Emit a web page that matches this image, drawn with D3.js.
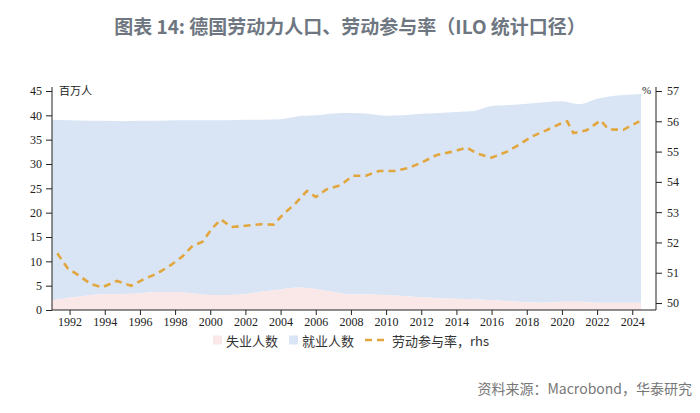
<!DOCTYPE html>
<html><head><meta charset="utf-8">
<script src="https://cdn.jsdelivr.net/npm/d3@7"></script>
<style>
html,body{margin:0;padding:0;background:#fff;}
svg{display:block;}
</style></head>
<body>
<svg id="c" width="700" height="413"></svg>
<script>
// ---- data ----
const areaYears = [1991,1992,1993,1994,1995,1996,1997,1998,1999,2000,2001,2002,2003,2004,2005,2006,2007,2008,2009,2010,2011,2012,2013,2014,2015,2016,2017,2018,2019,2020,2021,2022,2023,2024,2024.5];
const laborForce = [39.1,39.0,38.9,38.9,38.8,38.9,38.9,39.0,39.0,39.0,39.0,39.1,39.1,39.2,39.8,40.0,40.4,40.5,40.3,39.9,40.0,40.3,40.5,40.7,40.9,41.9,42.1,42.4,42.7,42.9,42.3,43.4,44.0,44.3,44.4];
const unemployed = [2.0,2.5,3.0,3.3,3.3,3.4,3.7,3.7,3.4,3.1,3.1,3.3,3.8,4.2,4.6,4.3,3.7,3.2,3.2,3.1,2.9,2.6,2.4,2.3,2.2,2.0,1.8,1.6,1.5,1.7,1.7,1.5,1.5,1.5,1.5];
const rateYears = [1991.3,1991.9,1992.5,1993.2,1993.85,1994.7,1995.5,1996.2,1997.0,1997.75,1998.4,1999.0,1999.55,2000.1,2000.6,2001.2,2002.0,2002.9,2003.6,2004.2,2004.8,2005.5,2006.0,2006.6,2007.4,2008.1,2008.85,2009.6,2010.5,2011.3,2012.1,2012.85,2013.7,2014.6,2015.2,2016.0,2016.85,2017.6,2018.3,2019.1,2019.9,2020.3,2020.65,2021.4,2022.2,2022.65,2023.5,2024.4];
const participation = [51.64,51.14,50.92,50.63,50.52,50.73,50.57,50.78,50.98,51.25,51.53,51.89,52.02,52.46,52.76,52.51,52.55,52.60,52.59,52.96,53.26,53.70,53.50,53.75,53.89,54.20,54.20,54.36,54.36,54.46,54.66,54.88,54.99,55.13,54.93,54.80,54.99,55.24,55.50,55.70,55.92,56.00,55.61,55.70,56.03,55.73,55.72,56.00];
const xTicks = [1992,1994,1996,1998,2000,2002,2004,2006,2008,2010,2012,2014,2016,2018,2020,2022,2024];
const yLeftTicks = [0,5,10,15,20,25,30,35,40,45];
const yRightTicks = [50,51,52,53,54,55,56,57];
const titleText = "图表 14: 德国劳动力人口、劳动参与率（ILO 统计口径）";
const legendLabels = ["失业人数","就业人数","劳动参与率，rhs"];
const sourceText = "资料来源：Macrobond，华泰研究";

// ---- layout ----
const svg = d3.select("#c");
const L = 52, R = 656, T = 91, B = 310;
const x = d3.scaleLinear().domain([1991, 2025.35]).range([L, R]);
const yL = d3.scaleLinear().domain([0, 45]).range([B, T]);
const yR = d3.scaleLinear().domain([49.77, 57]).range([B, T]);

const serif = "'Liberation Serif','DejaVu Serif',serif";
const cjk = "'Noto Sans CJK SC','Noto Sans',sans-serif";

// title
svg.append("text").attr("x", 350).attr("y", 34).attr("text-anchor","middle")
  .attr("font-family", cjk).attr("font-size", 19).attr("font-weight", "bold")
  .attr("fill", "#6e7781").text(titleText);

const rows = areaYears.map((yr,i)=>({yr, tot: laborForce[i], un: unemployed[i]}));

// employed area (blue) from unemployed to total
svg.append("path").datum(rows)
  .attr("fill", "#d9e5f4")
  .attr("d", d3.area().x(d=>x(d.yr)).y0(d=>yL(d.un)).y1(d=>yL(d.tot)).curve(d3.curveMonotoneX));
// unemployed area (pink)
svg.append("path").datum(rows)
  .attr("fill", "#fae7e8")
  .attr("d", d3.area().x(d=>x(d.yr)).y0(yL(0)).y1(d=>yL(d.un)).curve(d3.curveMonotoneX));

// participation line
const rrows = rateYears.map((yr,i)=>({yr, v: participation[i]}));
svg.append("path").datum(rrows)
  .attr("fill","none").attr("stroke","#e2a63e").attr("stroke-width",2.6)
  .attr("stroke-dasharray","7,5")
  .attr("d", d3.line().x(d=>x(d.yr)).y(d=>yR(d.v)));

// axes
const gL = svg.append("g").attr("transform",`translate(${L},0)`)
  .call(d3.axisLeft(yL).tickValues(yLeftTicks).tickSize(6).tickPadding(4));
const gR = svg.append("g").attr("transform",`translate(${R},0)`)
  .call(d3.axisRight(yR).tickValues(yRightTicks).tickSize(6).tickPadding(5));
const gB = svg.append("g").attr("transform",`translate(0,${B})`)
  .call(d3.axisBottom(x).tickValues(xTicks).tickFormat(d3.format("d")).tickSize(5).tickPadding(2));
[gL,gR,gB].forEach(g=>{
  g.selectAll("text").attr("font-family", serif).attr("font-size", 12).attr("fill","#222");
  g.selectAll("line").attr("stroke","#222");
  g.select(".domain").attr("stroke","#222");
});
gL.select(".domain").attr("d", `M0,${B}V${T-4}`);
gR.select(".domain").attr("d", `M0,${B}V${T-4}`);
gB.select(".domain").attr("d", `M${L},0H${R}`);

// unit labels
svg.append("text").attr("x", 59).attr("y", 95).attr("font-family", cjk)
  .attr("font-size", 11).attr("fill","#222").text("百万人");
svg.append("text").attr("x", 642).attr("y", 94).attr("font-family", serif)
  .attr("font-size", 11).attr("fill","#222").text("%");

// legend
const lg = svg.append("g").attr("font-family", cjk).attr("font-size", 13).attr("fill","#333");
lg.append("rect").attr("x",213).attr("y",335.5).attr("width",9).attr("height",9).attr("fill","#fae7e8");
lg.append("text").attr("x",226).attr("y",345.5).text(legendLabels[0]);
lg.append("rect").attr("x",289).attr("y",335.5).attr("width",9).attr("height",9).attr("fill","#d9e5f4");
lg.append("text").attr("x",302).attr("y",345.5).text(legendLabels[1]);
lg.append("line").attr("x1",365).attr("x2",388).attr("y1",340).attr("y2",340)
  .attr("stroke","#e2a63e").attr("stroke-width",2.6).attr("stroke-dasharray","7,5");
lg.append("text").attr("x",392).attr("y",345.5).text(legendLabels[2]);

// source
svg.append("text").attr("x", 692).attr("y", 394).attr("text-anchor","end")
  .attr("font-family", cjk).attr("font-size", 14).attr("fill","#777").text(sourceText);
</script>
</body></html>
